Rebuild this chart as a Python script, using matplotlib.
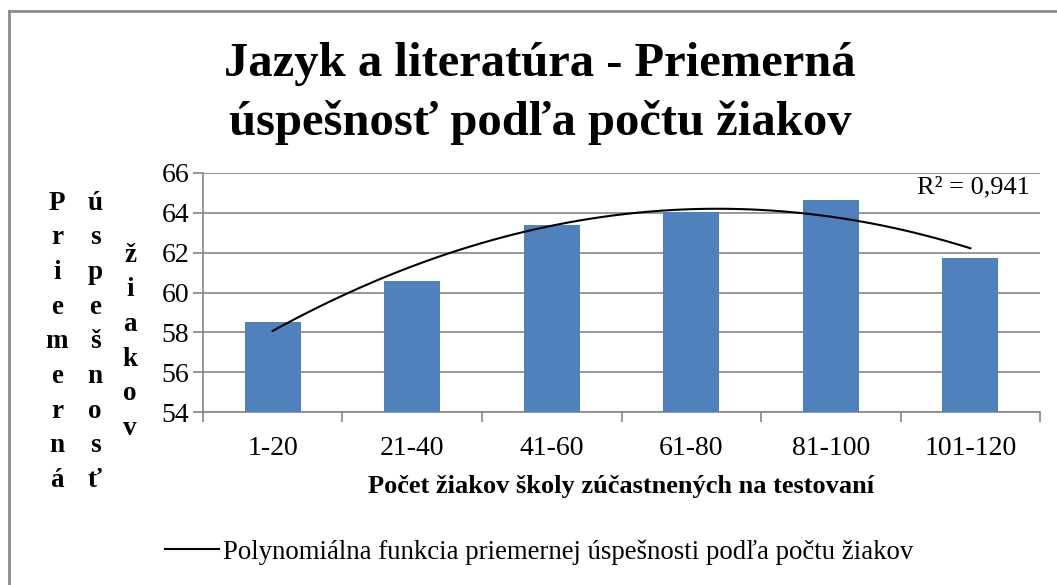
import matplotlib.pyplot as plt
from matplotlib.lines import Line2D
import numpy as np

# data
categories = ["1-20", "21-40", "41-60", "61-80", "81-100", "101-120"]
values = [58.5, 60.6, 63.4, 64.05, 64.65, 61.75]
r2_label = "R² = 0,941"

title = "Jazyk a literatúra - Priemerná\núspešnosť podľa počtu žiakov"
xlabel = "Počet žiakov školy zúčastnených na testovaní"
ylabel_words = ["Priemerná", "úspešnosť", "žiakov"]
legend_label = "Polynomiálna funkcia priemernej úspešnosti podľa počtu žiakov"

plt.rcParams['font.family'] = ['Liberation Serif', 'DejaVu Serif']

fig = plt.figure(figsize=(10.57, 5.85), dpi=100)
ax = fig.add_axes([0.192, 0.2957, 0.792, 0.4086])

x = np.arange(len(categories))
ax.bar(x, values, width=0.4, color="#4F81BD", zorder=3)

# 2nd order polynomial trendline (like Excel)
coef = np.polyfit(x, values, 2)
xs = np.linspace(x[0], x[-1], 100)
trend, = ax.plot(xs, np.polyval(coef, xs), color="black", lw=1.5, zorder=4)

ax.set_ylim(54, 66)
ax.set_yticks(np.arange(54, 67, 2))
ax.set_xlim(-0.5, len(categories) - 0.5)
ax.set_xticks(x)
ax.set_xticklabels(categories)
ax.set_xticks(np.arange(-0.5, len(categories), 1), minor=True)
ax.tick_params(axis='x', which='major', length=0, labelsize=20, pad=17)
ax.tick_params(axis='x', which='minor', length=7, color="#868686", width=1.2)
ax.tick_params(axis='y', length=7, color="#868686", width=1.2, labelsize=20, pad=3)
ax.grid(axis='y', color="#868686", lw=1.2, zorder=0)
for s in ['top', 'right']:
    ax.spines[s].set_visible(False)
for s in ['left', 'bottom']:
    ax.spines[s].set_color("#868686")
    ax.spines[s].set_linewidth(1.2)

ax.text(0.988, 0.985, r2_label, transform=ax.transAxes, ha='right', va='top',
        fontsize=19)

ax.set_xlabel(xlabel, fontsize=19, fontweight='bold', labelpad=10)

fig.text(0.511, 1 - 93.5 / 585, title, ha='center', va='center', fontsize=35,
         fontweight='bold', linespacing=1.42)

# stacked vertical y label
H = 585.0
cols = [(57, 203), (95, 203), (130, 255)]
for word, (cx, y0) in zip(ylabel_words, cols):
    for i, ch in enumerate(word):
        fig.text(cx / 1057.0, 1 - (y0 + i * 34.7) / H, ch, ha='center',
                 va='center', fontsize=19.5, fontweight='bold')

fig.legend([trend], [legend_label], loc='center', bbox_to_anchor=(0.51, 1 - 552 / H),
           frameon=False, fontsize=19.3, handlelength=2.0, handletextpad=0.15)

# outer chart frame (left and top edges visible)
fig.add_artist(Line2D([9 / 1057, 9 / 1057], [0, 1 - 11 / H], color="#8c8c8c", lw=2,
                      transform=fig.transFigure))
fig.add_artist(Line2D([9 / 1057, 1], [1 - 11 / H, 1 - 11 / H], color="#8c8c8c", lw=2,
                      transform=fig.transFigure))

fig.savefig("out.png", dpi=100)
